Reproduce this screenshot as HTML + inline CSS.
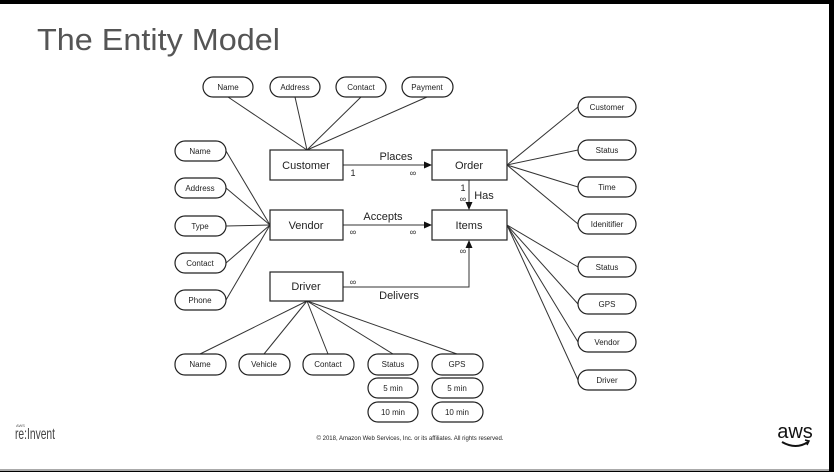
<!DOCTYPE html>
<html><head><meta charset="utf-8"><style>
html,body{margin:0;padding:0;background:#000;}
#s{position:absolute;left:0;top:4px;width:829px;height:465px;background:#fff;}
#b{position:absolute;left:0;top:469px;width:829px;height:2px;background:#aaa;}
</style></head><body>
<div id="s"></div><div id="b"></div>
<svg width="834" height="472" style="position:absolute;left:0;top:0" font-family="Liberation Sans, sans-serif">
<defs><marker id="a" markerWidth="8" markerHeight="8" refX="7" refY="4" orient="auto" markerUnits="userSpaceOnUse"><path d="M0,0.5 L8,4 L0,7.5z" fill="#111"/></marker></defs>
<text x="37" y="50" font-size="31" fill="#555" textLength="243" lengthAdjust="spacingAndGlyphs">The Entity Model</text>
<g stroke="#333" stroke-width="1" fill="none">
<line x1="228" y1="97" x2="307" y2="150"/><line x1="295" y1="97" x2="307" y2="150"/><line x1="361" y1="97" x2="307" y2="150"/><line x1="427" y1="97" x2="307" y2="150"/>
<line x1="226" y1="151" x2="270" y2="225"/><line x1="226" y1="188" x2="270" y2="225"/><line x1="226" y1="226" x2="270" y2="225"/><line x1="226" y1="263" x2="270" y2="225"/><line x1="226" y1="300" x2="270" y2="225"/>
<line x1="578" y1="107" x2="507" y2="165"/><line x1="578" y1="150" x2="507" y2="165"/><line x1="578" y1="187" x2="507" y2="165"/><line x1="578" y1="224" x2="507" y2="165"/>
<line x1="578" y1="267" x2="507" y2="225"/><line x1="578" y1="304" x2="507" y2="225"/><line x1="578" y1="342" x2="507" y2="225"/><line x1="578" y1="380" x2="507" y2="225"/>
<line x1="200" y1="354" x2="307" y2="301"/><line x1="264" y1="354" x2="307" y2="301"/><line x1="328" y1="354" x2="307" y2="301"/><line x1="393" y1="354" x2="307" y2="301"/><line x1="457" y1="354" x2="307" y2="301"/>
<line x1="343" y1="165" x2="431" y2="165" marker-end="url(#a)"/>
<line x1="469" y1="180" x2="469" y2="209" marker-end="url(#a)"/>
<line x1="343" y1="225" x2="431" y2="225" marker-end="url(#a)"/>
<polyline points="343,287 469,287 469,241" marker-end="url(#a)"/>
</g>
<g stroke="#222" stroke-width="1.2" fill="#fff">
<rect x="270" y="150" width="73" height="30"/><rect x="432" y="150" width="75" height="30"/>
<rect x="270" y="210" width="73" height="30"/><rect x="432" y="210" width="75" height="30"/>
<rect x="270" y="272" width="73" height="29"/>
</g>
<g font-size="11" fill="#222" text-anchor="middle">
<text x="306" y="169">Customer</text><text x="469" y="169">Order</text>
<text x="306" y="229">Vendor</text><text x="469" y="229">Items</text>
<text x="306" y="290">Driver</text>
<text x="396" y="160">Places</text><text x="383" y="220">Accepts</text><text x="399" y="299">Delivers</text>
<text x="484" y="199">Has</text>
</g>
<g font-size="9" fill="#222" text-anchor="middle">
<text x="353" y="176">1</text><text x="413" y="176">∞</text>
<text x="463" y="191">1</text><text x="463" y="202">∞</text>
<text x="353" y="235">∞</text><text x="413" y="235">∞</text>
<text x="353" y="285">∞</text><text x="463" y="254">∞</text>
</g>
<g stroke="#222" stroke-width="1.2" fill="#fff">
<rect x="203" y="77" width="50" height="20" rx="10"/><rect x="270" y="77" width="50" height="20" rx="10"/><rect x="336" y="77" width="50" height="20" rx="10"/><rect x="402" y="77" width="51" height="20" rx="10"/>
<rect x="175" y="141" width="51" height="20" rx="10"/><rect x="175" y="178" width="51" height="20" rx="10"/><rect x="175" y="216" width="51" height="20" rx="10"/><rect x="175" y="253" width="51" height="20" rx="10"/><rect x="175" y="290" width="51" height="20" rx="10"/>
<rect x="578" y="97" width="58" height="20" rx="10"/><rect x="578" y="140" width="58" height="20" rx="10"/><rect x="578" y="177" width="58" height="20" rx="10"/><rect x="578" y="214" width="58" height="20" rx="10"/>
<rect x="578" y="257" width="58" height="20" rx="10"/><rect x="578" y="294" width="58" height="20" rx="10"/><rect x="578" y="332" width="58" height="20" rx="10"/><rect x="578" y="370" width="58" height="20" rx="10"/>
<rect x="175" y="354" width="51" height="21" rx="10"/><rect x="239" y="354" width="51" height="21" rx="10"/><rect x="303" y="354" width="51" height="21" rx="10"/><rect x="368" y="354" width="50" height="21" rx="10"/><rect x="432" y="354" width="51" height="21" rx="10"/>
<rect x="368" y="378" width="50" height="20" rx="10"/><rect x="432" y="378" width="51" height="20" rx="10"/>
<rect x="368" y="402" width="50" height="20" rx="10"/><rect x="432" y="402" width="51" height="20" rx="10"/>
</g>
<g font-size="8" fill="#222" text-anchor="middle">
<text x="228" y="90">Name</text><text x="295" y="90">Address</text><text x="361" y="90">Contact</text><text x="427" y="90">Payment</text>
<text x="200" y="154">Name</text><text x="200" y="191">Address</text><text x="200" y="229">Type</text><text x="200" y="266">Contact</text><text x="200" y="303">Phone</text>
<text x="607" y="110">Customer</text><text x="607" y="153">Status</text><text x="607" y="190">Time</text><text x="607" y="227">Idenitifier</text>
<text x="607" y="270">Status</text><text x="607" y="307">GPS</text><text x="607" y="345">Vendor</text><text x="607" y="383">Driver</text>
<text x="200" y="367">Name</text><text x="264" y="367">Vehicle</text><text x="328" y="367">Contact</text><text x="393" y="367">Status</text><text x="457" y="367">GPS</text>
<text x="393" y="391">5 min</text><text x="457" y="391">5 min</text><text x="393" y="415">10 min</text><text x="457" y="415">10 min</text>
<text x="410" y="440" font-size="6">© 2018, Amazon Web Services, Inc. or its affiliates. All rights reserved.</text>
</g>
<text x="16" y="427" font-size="4" fill="#555">AWS</text>
<text x="15" y="439" font-size="16" fill="#444" textLength="40" lengthAdjust="spacingAndGlyphs">re:Invent</text>
<text x="795" y="438" font-size="20" fill="#111" text-anchor="middle">aws</text>
<path d="M782,442 Q796,450 808,442" stroke="#111" stroke-width="2" fill="none"/>
<path d="M805,440 L809,441 L807,445" stroke="#111" stroke-width="1.5" fill="none"/>
</svg>
</body></html>
